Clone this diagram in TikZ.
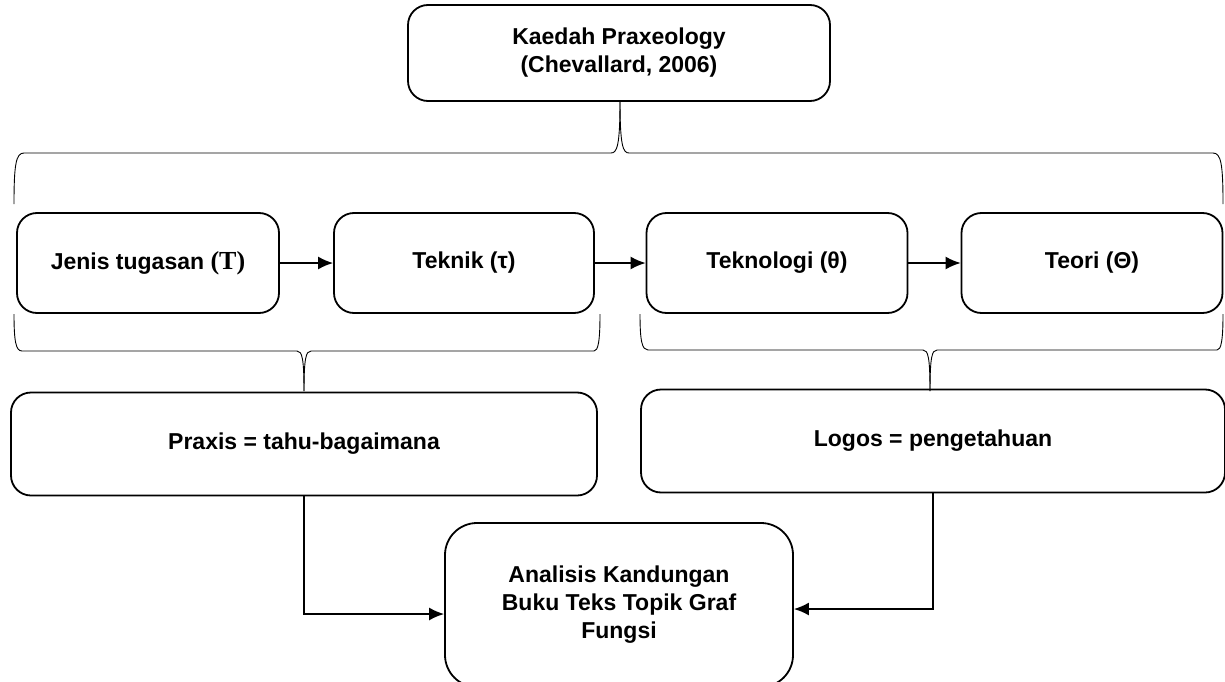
\documentclass[tikz,border=0pt]{standalone}
\usepackage{fontspec}
\setmainfont{Liberation Sans}
\newfontfamily\serifT{Liberation Serif}
\usetikzlibrary{arrows.meta}

\begin{document}
\begin{tikzpicture}[x=1pt,y=-1pt]
\tikzstyle{every node}=[draw, rounded corners=20pt, line width=1.8pt, align=center, inner sep=0pt, font=\bfseries\fontsize{23}{28}\selectfont]
\tikzstyle{brace}=[line width=0.9pt]
\tikzstyle{link}=[line width=1.6pt, -{Latex[length=15pt,width=13pt]}]
\useasboundingbox (0,0) rectangle (1225,682);
% top
\node (kaedah) at (619,53) [minimum width=422pt, minimum height=96pt] {Kaedah Praxeology\\(Chevallard, 2006)};
% the four steps
\node (jenis) at (148,263) [minimum width=262pt, minimum height=100pt] {Jenis tugasan {\serifT\fontsize{26}{28}\selectfont(T)}};
\node (teknik) at (464,263) [minimum width=260pt, minimum height=100pt] {Teknik (τ)};
\node (teknologi) at (777,263) [minimum width=261pt, minimum height=100pt] {Teknologi (θ)};
\node (teori) at (1092,263) [minimum width=261pt, minimum height=100pt] {Teori (Θ)};
% praxis and logos
\node (praxis) at (304,444) [minimum width=586pt, minimum height=103pt] {Praxis = tahu-bagaimana};
\node (logos) at (933,441) [minimum width=584pt, minimum height=103pt] {Logos = pengetahuan};
\node (analisis) at (619,605) [minimum width=348pt, minimum height=164pt, rounded corners=32pt] {Analisis Kandungan\\Buku Teks Topik Graf\\Fungsi};
\draw[link] (jenis) -- (teknik);
\draw[link] (teknik) -- (teknologi);
\draw[link] (teknologi) -- (teori);
\draw[link] (praxis.south) |- ([yshift=-9pt]analisis.west);
\draw[link] (logos.south) |- ([yshift=-4pt]analisis.east);
% braces
\draw[brace] (14,204) .. controls (14,164) and (16,153) .. (24,153) -- (611,153) .. controls (617,153) and (620,146) .. (620,101);
\draw[brace] (620,101) .. controls (620,146) and (623,153) .. (629,153) -- (1213,153) .. controls (1221,153) and (1223,164) .. (1223,204);
\draw[brace] (14,314) .. controls (14,342) and (16,351) .. (22,351) -- (297,351) .. controls (302,351) and (304,358) .. (304,391);
\draw[brace] (304,391) .. controls (304,358) and (306,351) .. (311,351) -- (594,351) .. controls (598,351) and (600,342) .. (600,314);
\draw[brace] (640,314) .. controls (640,341) and (642,350) .. (648,350) -- (923,350) .. controls (928,350) and (930,357) .. (930,391);
\draw[brace] (930,391) .. controls (930,357) and (932,350) .. (937,350) -- (1217,350) .. controls (1221,350) and (1223,341) .. (1223,314);
\end{tikzpicture}
\end{document}
